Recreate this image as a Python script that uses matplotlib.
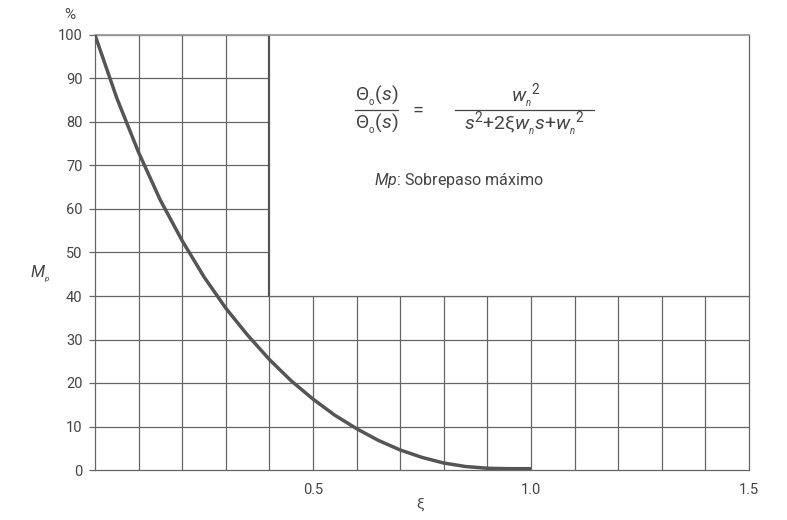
import matplotlib
matplotlib.use("Agg")
import matplotlib.pyplot as plt
from matplotlib.patches import Rectangle

plt.rcParams['font.family'] = ['Roboto', 'DejaVu Sans']
plt.rcParams['mathtext.fontset'] = 'custom'
plt.rcParams['mathtext.rm'] = 'Roboto'
plt.rcParams['mathtext.it'] = 'Roboto:italic'

# damping ratio vs maximum overshoot (%)
xi = [0.0, 0.05, 0.1, 0.15, 0.2, 0.25, 0.3, 0.35, 0.4, 0.45, 0.5,
      0.55, 0.6, 0.65, 0.7, 0.75, 0.8, 0.85, 0.9, 0.95, 1.0]
mp = [100, 85.5, 73, 62, 52.7, 44.4, 37.2, 31, 25.4, 20.5, 16.3,
      12.6, 9.5, 6.8, 4.6, 2.9, 1.6, 0.8, 0.4, 0.3, 0.3]

x_ticks = [0.5, 1.0, 1.5]
y_ticks = list(range(0, 101, 10))

TXT = '#444444'
GRID = '#666666'

fig = plt.figure(figsize=(7.87, 5.2), dpi=100)
ax = fig.add_axes([95/787, 50/520, 654/787, 435/520])
ax.set_xlim(0, 1.5)
ax.set_ylim(0, 100)

# grid every 0.1 / 10
for gx in [i / 10 for i in range(1, 15)]:
    ax.axvline(gx, color=GRID, lw=0.9, zorder=0.5)
for gy in y_ticks[1:]:
    ax.axhline(gy, color=GRID, lw=0.9, zorder=0.5)

# white box hiding the grid in the upper right
ax.add_patch(Rectangle((0.4, 40), 1.1, 60, facecolor='white', edgecolor='none', zorder=1))
ax.plot([0.4, 0.4], [40, 100], color='#555555', lw=1.6, zorder=1.5)
ax.plot([0.4, 1.5], [40, 40], color=GRID, lw=0.9, zorder=1.5)

ax.plot(xi, mp, color='#555555', lw=2.5, solid_capstyle='butt', zorder=3)

for side in ['left', 'bottom', 'right']:
    ax.spines[side].set_color(GRID)
    ax.spines[side].set_linewidth(0.9)
ax.spines['top'].set_color('#999999')
ax.spines['top'].set_linewidth(1.3)

ax.set_xticks(x_ticks)
ax.set_xticklabels(['0.5', '1.0', '1.5'])
ax.set_yticks(y_ticks)
ax.tick_params(axis='x', length=0, pad=9, labelsize=10.5, labelcolor=TXT)
ax.tick_params(axis='y', length=4, width=0.9, color=GRID, pad=5, labelsize=10.5, labelcolor=TXT)

fig.text(70/787, 1 - 15/520, '%', ha='center', va='center', fontsize=11, color=TXT)
fig.text(40/787, 1 - 274/520, r'$M_{_p}$', ha='center', va='center', fontsize=12, color=TXT)
fig.text(420/787, 1 - 505/520, 'ξ', ha='center', va='center', fontsize=11, color=TXT)

# transfer function
def ft(px, py, s, size=14, ha='center'):
    fig.text(px/787, 1 - py/520, s, ha=ha, va='center', fontsize=size, color=TXT)

def fl(x0, x1, py):
    fig.add_artist(plt.Line2D([x0/787, x1/787], [1 - py/520] * 2, color=TXT, lw=0.9))

ft(377, 96, r'$\Theta_{_\mathrm{o}}(s)$')
fl(355, 398, 110)
ft(377, 124, r'$\Theta_{_\mathrm{o}}(s)$')
ft(418, 111, '=', size=14)
ft(526, 95, r'$w_{_n}{}^2$')
fl(455, 594, 110)
ft(525, 124, r'$s^2$+2ξ$w_{_n}s$+$w_{_n}{}^2$')
ft(459, 181, r'$Mp$:' + ' Sobrepaso máximo', size=11.5)

fig.savefig('out.png', dpi=100)
